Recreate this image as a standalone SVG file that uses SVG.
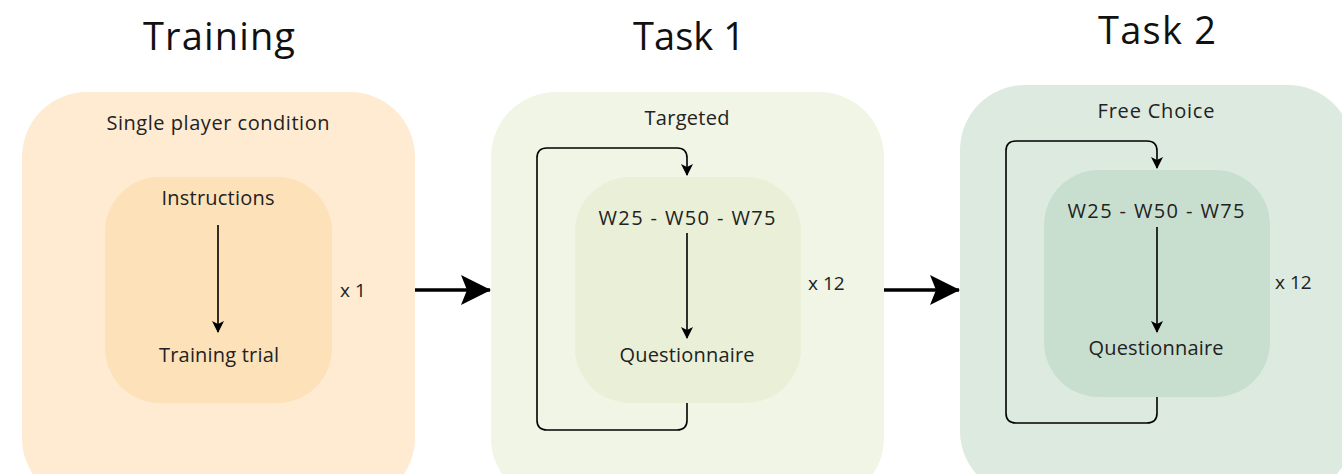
<svg xmlns="http://www.w3.org/2000/svg" width="1342" height="474" viewBox="0 0 1342 474">
  <style>
    .title { font-family: "Open Sans", "Liberation Sans", sans-serif; font-size: 38px; fill: #111; text-anchor: middle; }
    .label { font-family: "Open Sans", "Liberation Sans", sans-serif; font-size: 20px; fill: #222; text-anchor: middle; }
    .count { font-family: "Open Sans", "Liberation Sans", sans-serif; font-size: 19px; fill: #222; }
    .flow { fill: none; stroke: #000; stroke-width: 1.6; }
    .big { fill: none; stroke: #000; stroke-width: 3.5; }
  </style>
  <defs>
    <marker id="head" viewBox="0 0 12 12" refX="11" refY="6" markerWidth="12" markerHeight="12" markerUnits="userSpaceOnUse" orient="auto">
      <path d="M0,0 L12,6 L0,12 L3,6 Z" fill="#000"/>
    </marker>
    <marker id="bighead" viewBox="0 0 30 30" refX="29" refY="15" markerWidth="30" markerHeight="30" markerUnits="userSpaceOnUse" orient="auto">
      <path d="M0,0 L30,15 L0,30 L6,15 Z" fill="#000"/>
    </marker>
  </defs>

  <!-- column headings -->
  <text class="title" x="219" y="50" textLength="152" lengthAdjust="spacing">Training</text>
  <text class="title" x="689" y="50" textLength="112" lengthAdjust="spacing">Task 1</text>
  <text class="title" x="1157" y="44" textLength="118" lengthAdjust="spacing">Task 2</text>

  <g id="training">
    <rect x="22" y="92" width="393" height="411" rx="65" fill="#FEEBD2"/>
    <text class="label" x="218" y="130" textLength="223" lengthAdjust="spacing">Single player condition</text>
    <rect x="105" y="177" width="227" height="226" rx="55" fill="#FCE1B9"/>
    <text class="label" x="218" y="205" textLength="113" lengthAdjust="spacing">Instructions</text>
    <text class="label" x="219" y="362" textLength="120" lengthAdjust="spacing">Training trial</text>
    <text class="count" x="340" y="297">x 1</text>
  </g>

  <g id="task1">
    <rect x="491" y="92" width="393" height="411" rx="65" fill="#F1F5E6"/>
    <text class="label" x="687" y="125" textLength="85" lengthAdjust="spacing">Targeted</text>
    <rect x="575" y="177" width="226" height="226" rx="55" fill="#E9F0D7"/>
    <text class="label" x="687" y="225" textLength="177" lengthAdjust="spacing">W25 - W50 - W75</text>
    <text class="label" x="687" y="362" textLength="135" lengthAdjust="spacing">Questionnaire</text>
    <text class="count" x="808" y="290">x 12</text>
  </g>

  <g id="task2">
    <rect x="960" y="85" width="393" height="411" rx="65" fill="#DDEAE0"/>
    <text class="label" x="1156" y="118" textLength="117" lengthAdjust="spacing">Free Choice</text>
    <rect x="1044" y="170" width="226" height="227" rx="55" fill="#C8DFD0"/>
    <text class="label" x="1156" y="218" textLength="177" lengthAdjust="spacing">W25 - W50 - W75</text>
    <text class="label" x="1156" y="355" textLength="135" lengthAdjust="spacing">Questionnaire</text>
    <text class="count" x="1275" y="289">x 12</text>
  </g>

  <g id="connectors">
    <!-- inner steps -->
    <line class="flow" x1="218" y1="225" x2="218" y2="332" marker-end="url(#head)"/>
    <line class="flow" x1="687" y1="233" x2="687" y2="338" marker-end="url(#head)"/>
    <line class="flow" x1="1157" y1="227" x2="1157" y2="332" marker-end="url(#head)"/>
    <!-- repeat loops -->
    <path class="flow" d="M687,403 V420 Q687,430 677,430 H547 Q537,430 537,420 V158 Q537,148 547,148 H677 Q687,148 687,158 V175" marker-end="url(#head)"/>
    <path class="flow" d="M1157,397 V413 Q1157,423 1147,423 H1016 Q1006,423 1006,413 V151 Q1006,141 1016,141 H1147 Q1157,141 1157,151 V168" marker-end="url(#head)"/>
    <!-- stage transitions -->
    <line class="big" x1="415" y1="290" x2="490" y2="290" marker-end="url(#bighead)"/>
    <line class="big" x1="884" y1="290" x2="959" y2="290" marker-end="url(#bighead)"/>
  </g>
</svg>
